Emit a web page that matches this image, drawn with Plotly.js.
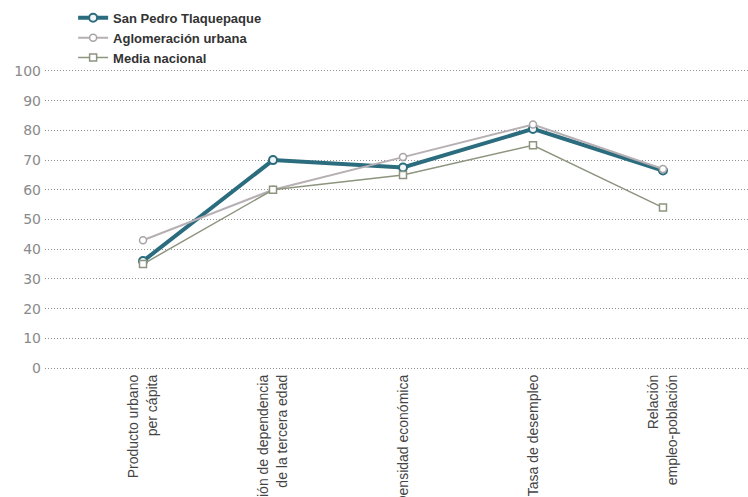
<!DOCTYPE html>
<html>
<head>
<meta charset="utf-8">
<script src="https://cdn.plot.ly/plotly-3.0.1.min.js"></script>
<style>html,body{margin:0;padding:0;background:#fff;}#chart{width:748px;height:497px;}</style>
</head>
<body>
<div id="chart"></div>
<script>
const categories = [
  "Producto urbano<br>per cápita",
  "Relación de dependencia<br>de la tercera edad",
  "Densidad económica",
  "Tasa de desempleo",
  "Relación<br>empleo-población"
];
const seriesNames = ["San Pedro Tlaquepaque", "Aglomeración urbana", "Media nacional"];
const sanPedro = [36, 70, 67.5, 80.5, 66.5];
const aglomeracion = [43, 60, 71, 82, 67];
const mediaNacional = [35, 60, 65, 75, 54];
const yTicks = [0, 10, 20, 30, 40, 50, 60, 70, 80, 90, 100];

const traces = [
  {
    x: categories, y: sanPedro, name: seriesNames[0], type: "scatter", mode: "lines+markers",
    line: {color: "#2b6d7e", width: 4},
    marker: {symbol: "circle", size: 8, color: "#f2f6f6", line: {color: "#2b6d7e", width: 2}}
  },
  {
    x: categories, y: aglomeracion, name: seriesNames[1], type: "scatter", mode: "lines+markers",
    line: {color: "#b6afb4", width: 2},
    marker: {symbol: "circle", size: 7, color: "#ffffff", line: {color: "#a9a3a7", width: 1.5}}
  },
  {
    x: categories, y: mediaNacional, name: seriesNames[2], type: "scatter", mode: "lines+markers",
    line: {color: "#8d957f", width: 1.5},
    marker: {symbol: "square", size: 7, color: "#ffffff", line: {color: "#8d957f", width: 1.5}}
  }
];

const layout = {
  width: 748, height: 497,
  margin: {l: 45, r: 0, t: 68, b: 126, pad: 0},
  paper_bgcolor: "#ffffff", plot_bgcolor: "#ffffff",
  showlegend: true,
  legend: {
    x: 0.04, y: 1.215, xanchor: "left", yanchor: "top",
    font: {family: "Liberation Sans, Arial, sans-serif", size: 13, color: "#333333", weight: "bold"},
    bgcolor: "rgba(0,0,0,0)", borderwidth: 0, tracegroupgap: 0
  },
  xaxis: {
    type: "category",
    range: [-0.754, 4.654],
    showgrid: false, zeroline: false, showline: false, ticks: "",
    tickangle: -90,
    tickfont: {family: "Liberation Sans, Arial, sans-serif", size: 14, color: "#444444"},
    automargin: false
  },
  yaxis: {
    range: [-1, 101],
    tickvals: yTicks, ticktext: yTicks.map(String),
    showgrid: true, gridcolor: "#8f8f8f", gridwidth: 1, griddash: "1px,2px",
    zeroline: false, showline: false, ticks: "",
    ticklabelstandoff: 3,
    tickfont: {family: "DejaVu Sans, sans-serif", size: 14, color: "#8a8a8a"},
    automargin: false
  }
};

Plotly.newPlot("chart", traces, layout, {displayModeBar: false, staticPlot: true});
</script>
</body>
</html>
